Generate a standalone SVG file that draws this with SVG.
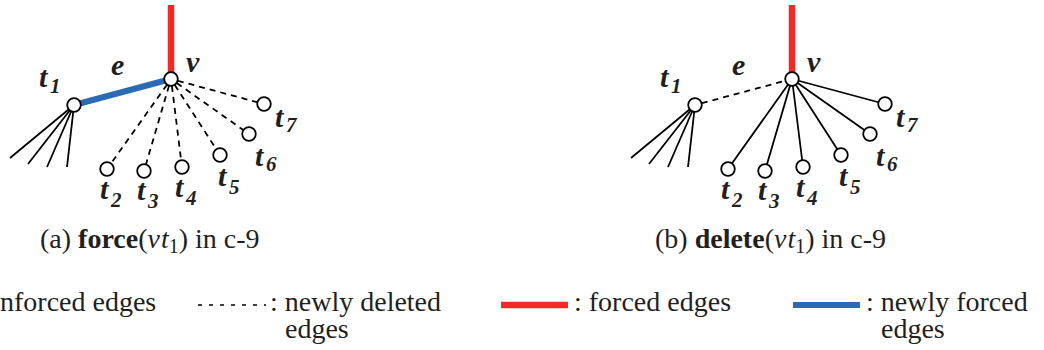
<svg xmlns="http://www.w3.org/2000/svg" width="1044" height="350" viewBox="0 0 1044 350">
<style>
.node{fill:#fff;stroke:#000;stroke-width:1.8}
.thin{stroke:#000;stroke-width:1.8;fill:none}
.dash{stroke:#000;stroke-width:1.8;fill:none;stroke-dasharray:6 5}
.red{stroke:#EE2B25;stroke-width:6.5}
.blue{stroke:#2B6BB5;stroke-width:6}
text{font-family:'Liberation Serif','Times New Roman','DejaVu Serif',serif;fill:#231F20}
.lbl{font-weight:bold;font-style:italic;font-size:30px}
.sub{font-size:21px}
.cap{font-size:28px}
.b{font-weight:bold}
.i{font-style:italic}
</style>
<rect width="1044" height="350" fill="#fff"/>
<g id="connectors">
  <line class="red" x1="171" y1="5" x2="171" y2="73"/>
  <line class="blue" x1="74" y1="105" x2="171" y2="79"/>
  <line class="thin" x1="74" y1="105" x2="10" y2="158"/>
  <line class="thin" x1="74" y1="105" x2="28" y2="164"/>
  <line class="thin" x1="74" y1="105" x2="47" y2="167"/>
  <line class="thin" x1="74" y1="105" x2="67" y2="167"/>
  <line class="dash" x1="167" y1="84.7" x2="111.1" y2="163.3"/>
  <line class="dash" x1="169" y1="85.7" x2="146" y2="164.3"/>
  <line class="dash" x1="171.9" y1="86" x2="181.1" y2="160.1"/>
  <line class="dash" x1="174.8" y1="84.9" x2="216.2" y2="149.1"/>
  <line class="dash" x1="176.7" y1="83" x2="243.3" y2="130"/>
  <line class="dash" x1="177.8" y1="80.8" x2="257.2" y2="102.2"/>
  <line class="red" x1="792" y1="5" x2="792" y2="73"/>
  <line class="dash" x1="701.8" y1="103.2" x2="785.2" y2="80.8"/>
  <line class="thin" x1="695" y1="105" x2="631" y2="158"/>
  <line class="thin" x1="695" y1="105" x2="649" y2="164"/>
  <line class="thin" x1="695" y1="105" x2="668" y2="167"/>
  <line class="thin" x1="695" y1="105" x2="688" y2="167"/>
  <line class="thin" x1="792" y1="79" x2="728" y2="169"/>
  <line class="thin" x1="792" y1="79" x2="765" y2="171"/>
  <line class="thin" x1="792" y1="79" x2="803" y2="167"/>
  <line class="thin" x1="792" y1="79" x2="841" y2="155"/>
  <line class="thin" x1="792" y1="79" x2="870" y2="134"/>
  <line class="thin" x1="792" y1="79" x2="885" y2="104"/>
</g>
<g id="a-v"><circle class="node" cx="171" cy="79" r="6.8"/><text class="lbl" x="186" y="72">v</text></g>
<g id="a-e"><text class="lbl" x="111" y="75">e</text></g>
<g id="a-t1"><circle class="node" cx="74" cy="105" r="6.8"/><text class="lbl" x="39" y="87">t</text><text class="lbl sub" x="50" y="93">1</text></g>
<g id="a-t2"><circle class="node" cx="107" cy="169" r="6.8"/><text class="lbl" x="100" y="199">t</text><text class="lbl sub" x="111" y="207">2</text></g>
<g id="a-t3"><circle class="node" cx="144" cy="171" r="6.8"/><text class="lbl" x="137" y="200">t</text><text class="lbl sub" x="148" y="208">3</text></g>
<g id="a-t4"><circle class="node" cx="182" cy="167" r="6.8"/><text class="lbl" x="175" y="197">t</text><text class="lbl sub" x="186" y="205">4</text></g>
<g id="a-t5"><circle class="node" cx="220" cy="155" r="6.8"/><text class="lbl" x="218" y="186">t</text><text class="lbl sub" x="229" y="194">5</text></g>
<g id="a-t6"><circle class="node" cx="249" cy="134" r="6.8"/><text class="lbl" x="255" y="166">t</text><text class="lbl sub" x="266" y="171">6</text></g>
<g id="a-t7"><circle class="node" cx="264" cy="104" r="6.8"/><text class="lbl" x="275" y="127">t</text><text class="lbl sub" x="286" y="132">7</text></g>

<g id="b-v"><circle class="node" cx="792" cy="79" r="6.8"/><text class="lbl" x="807" y="72">v</text></g>
<g id="b-e"><text class="lbl" x="732" y="75">e</text></g>
<g id="b-t1"><circle class="node" cx="695" cy="105" r="6.8"/><text class="lbl" x="660" y="87">t</text><text class="lbl sub" x="671" y="93">1</text></g>
<g id="b-t2"><circle class="node" cx="728" cy="169" r="6.8"/><text class="lbl" x="721" y="199">t</text><text class="lbl sub" x="732" y="207">2</text></g>
<g id="b-t3"><circle class="node" cx="765" cy="171" r="6.8"/><text class="lbl" x="758" y="200">t</text><text class="lbl sub" x="769" y="208">3</text></g>
<g id="b-t4"><circle class="node" cx="803" cy="167" r="6.8"/><text class="lbl" x="796" y="197">t</text><text class="lbl sub" x="807" y="205">4</text></g>
<g id="b-t5"><circle class="node" cx="841" cy="155" r="6.8"/><text class="lbl" x="839" y="186">t</text><text class="lbl sub" x="850" y="194">5</text></g>
<g id="b-t6"><circle class="node" cx="870" cy="134" r="6.8"/><text class="lbl" x="876" y="166">t</text><text class="lbl sub" x="887" y="171">6</text></g>
<g id="b-t7"><circle class="node" cx="885" cy="104" r="6.8"/><text class="lbl" x="896" y="127">t</text><text class="lbl sub" x="907" y="132">7</text></g>

<g id="captions">
  <text class="cap" x="40" y="248">(a) <tspan class="b">force</tspan>(<tspan class="i">v</tspan><tspan class="i" dx="1">t</tspan><tspan font-size="20" dy="5">1</tspan><tspan dy="-5">) in c-9</tspan></text>
  <text class="cap" x="655" y="248">(b) <tspan class="b">delete</tspan>(<tspan class="i">v</tspan><tspan class="i" dx="1">t</tspan><tspan font-size="20" dy="5">1</tspan><tspan dy="-5">) in c-9</tspan></text>
</g>
<g id="legend">
  <text class="cap" x="0" y="311">nforced edges</text>
  <line class="thin" x1="198" y1="305" x2="266" y2="305" style="stroke-width:1.5;stroke-dasharray:4 7"/>
  <text class="cap" x="270" y="311">: newly deleted</text>
  <text class="cap" x="285" y="338">edges</text>
  <line class="red" x1="501" y1="305" x2="568" y2="305"/>
  <text class="cap" x="574" y="311">: forced edges</text>
  <line class="blue" x1="793" y1="305" x2="860" y2="305"/>
  <text class="cap" x="866" y="311">: newly forced</text>
  <text class="cap" x="881" y="338">edges</text>
</g>
</svg>
